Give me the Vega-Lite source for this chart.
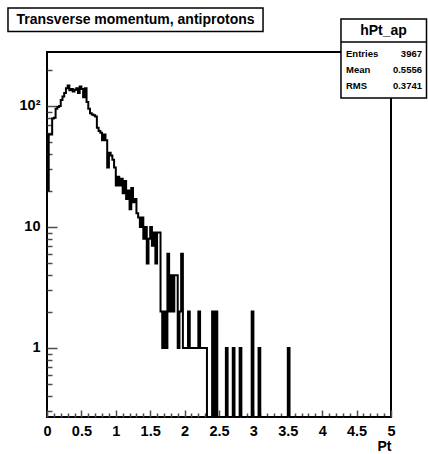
{
"$schema": "https://vega.github.io/schema/vega-lite/v6.json",
"width": 344,
"height": 365,
"autosize": {"type": "none"},
"padding": {"left": 47, "top": 52, "right": 37, "bottom": 37},
"background": "white",
"config": {
  "view": {"stroke": "black", "strokeWidth": 2},
  "font": "Liberation Sans",
  "axis": {"domain": false, "grid": false, "labelColor": "black", "titleColor": "black", "labelFont": "Liberation Sans", "labelFontWeight": "bold", "labelFlush": false, "labelOverlap": false}
},
"datasets": {
  "hist": [
    {"pt":0,"n":20},{"pt":0.025,"n":58},{"pt":0.05,"n":58},{"pt":0.075,"n":79},{"pt":0.1,"n":80},
    {"pt":0.125,"n":95},{"pt":0.15,"n":98},{"pt":0.175,"n":100},{"pt":0.2,"n":112},{"pt":0.225,"n":120},
    {"pt":0.25,"n":128},{"pt":0.275,"n":140},{"pt":0.3,"n":148},{"pt":0.325,"n":135},{"pt":0.35,"n":138},
    {"pt":0.375,"n":132},{"pt":0.4,"n":136},{"pt":0.425,"n":140},{"pt":0.45,"n":128},{"pt":0.475,"n":145},
    {"pt":0.5,"n":138},{"pt":0.525,"n":118},{"pt":0.55,"n":140},{"pt":0.575,"n":108},{"pt":0.6,"n":95},
    {"pt":0.625,"n":87},{"pt":0.65,"n":85},{"pt":0.675,"n":84},{"pt":0.7,"n":82},{"pt":0.725,"n":66},
    {"pt":0.75,"n":62},{"pt":0.775,"n":60},{"pt":0.8,"n":52},{"pt":0.825,"n":58},{"pt":0.85,"n":52},
    {"pt":0.875,"n":31},{"pt":0.9,"n":41},{"pt":0.925,"n":39},{"pt":0.95,"n":36},{"pt":0.975,"n":31},
    {"pt":1.0,"n":22},{"pt":1.025,"n":26},{"pt":1.05,"n":22},{"pt":1.075,"n":25},{"pt":1.1,"n":19},
    {"pt":1.125,"n":24},{"pt":1.15,"n":17},{"pt":1.175,"n":20},{"pt":1.2,"n":14},{"pt":1.225,"n":21},
    {"pt":1.25,"n":16},{"pt":1.275,"n":17},{"pt":1.3,"n":13},{"pt":1.325,"n":12},{"pt":1.35,"n":10},
    {"pt":1.375,"n":12},{"pt":1.4,"n":8},{"pt":1.425,"n":10},{"pt":1.45,"n":5},{"pt":1.475,"n":8},
    {"pt":1.5,"n":10},{"pt":1.525,"n":7},{"pt":1.55,"n":9},{"pt":1.575,"n":5},{"pt":1.6,"n":9},
    {"pt":1.625,"n":9},{"pt":1.65,"n":2},{"pt":1.675,"n":1},{"pt":1.7,"n":2},{"pt":1.725,"n":1},
    {"pt":1.75,"n":6},{"pt":1.775,"n":2},{"pt":1.8,"n":4},{"pt":1.825,"n":2},{"pt":1.85,"n":4},
    {"pt":1.875,"n":4},{"pt":1.9,"n":1},{"pt":1.925,"n":2},{"pt":1.95,"n":6},{"pt":1.975,"n":1},
    {"pt":2.0,"n":1},{"pt":2.025,"n":1},{"pt":2.05,"n":2},{"pt":2.075,"n":1},{"pt":2.1,"n":1},
    {"pt":2.125,"n":1},{"pt":2.15,"n":1},{"pt":2.175,"n":1},{"pt":2.2,"n":2},{"pt":2.225,"n":1},
    {"pt":2.25,"n":1},{"pt":2.275,"n":1},{"pt":2.3,"n":1},{"pt":2.325,"n":0},{"pt":2.35,"n":0},
    {"pt":2.375,"n":0},{"pt":2.4,"n":2},{"pt":2.425,"n":0},{"pt":2.45,"n":2},{"pt":2.475,"n":0},
    {"pt":2.5,"n":0},{"pt":2.525,"n":0},{"pt":2.55,"n":0},{"pt":2.575,"n":0},{"pt":2.6,"n":1},
    {"pt":2.625,"n":0},{"pt":2.65,"n":0},{"pt":2.675,"n":0},{"pt":2.7,"n":1},{"pt":2.725,"n":0},
    {"pt":2.75,"n":0},{"pt":2.775,"n":0},{"pt":2.8,"n":1},{"pt":2.825,"n":0},{"pt":2.85,"n":0},
    {"pt":2.875,"n":0},{"pt":2.9,"n":0},{"pt":2.925,"n":0},{"pt":2.95,"n":0},{"pt":2.975,"n":2},
    {"pt":3.0,"n":0},{"pt":3.025,"n":0},{"pt":3.05,"n":0},{"pt":3.075,"n":1},{"pt":3.1,"n":0},
    {"pt":3.125,"n":0},{"pt":3.15,"n":0},{"pt":3.175,"n":0},{"pt":3.2,"n":0},{"pt":3.225,"n":0},
    {"pt":3.25,"n":0},{"pt":3.275,"n":0},{"pt":3.3,"n":0},{"pt":3.325,"n":0},{"pt":3.35,"n":0},
    {"pt":3.375,"n":0},{"pt":3.4,"n":0},{"pt":3.425,"n":0},{"pt":3.45,"n":0},{"pt":3.475,"n":0},
    {"pt":3.5,"n":1},{"pt":3.525,"n":0},{"pt":3.55,"n":0},{"pt":3.575,"n":0},{"pt":3.6,"n":0},
    {"pt":3.625,"n":0},{"pt":3.65,"n":0},{"pt":3.675,"n":0},{"pt":3.7,"n":0},{"pt":3.725,"n":0},
    {"pt":3.75,"n":0},{"pt":3.775,"n":0},{"pt":3.8,"n":0},{"pt":3.825,"n":0},{"pt":3.85,"n":0},
    {"pt":3.875,"n":0},{"pt":3.9,"n":0},{"pt":3.925,"n":0},{"pt":3.95,"n":0},{"pt":3.975,"n":0},
    {"pt":4.0,"n":0},{"pt":4.025,"n":0},{"pt":4.05,"n":0},{"pt":4.075,"n":0},{"pt":4.1,"n":0},
    {"pt":4.125,"n":0},{"pt":4.15,"n":0},{"pt":4.175,"n":0},{"pt":4.2,"n":0},{"pt":4.225,"n":0},
    {"pt":4.25,"n":0},{"pt":4.275,"n":0},{"pt":4.3,"n":0},{"pt":4.325,"n":0},{"pt":4.35,"n":0},
    {"pt":4.375,"n":0},{"pt":4.4,"n":0},{"pt":4.425,"n":0},{"pt":4.45,"n":0},{"pt":4.475,"n":0},
    {"pt":4.5,"n":0},{"pt":4.525,"n":0},{"pt":4.55,"n":0},{"pt":4.575,"n":0},{"pt":4.6,"n":0},
    {"pt":4.625,"n":0},{"pt":4.65,"n":0},{"pt":4.675,"n":0},{"pt":4.7,"n":0},{"pt":4.725,"n":0},
    {"pt":4.75,"n":0},{"pt":4.775,"n":0},{"pt":4.8,"n":0},{"pt":4.825,"n":0},{"pt":4.85,"n":0},
    {"pt":4.875,"n":0},{"pt":4.9,"n":0},{"pt":4.925,"n":0},{"pt":4.95,"n":0},{"pt":4.975,"n":0}
  ]
},
"resolve": {"scale": {"y": "independent"}, "axis": {"x": "independent", "y": "independent"}},
"layer": [
  {
    "data": {"name": "hist"},
    "mark": {"type": "line", "interpolate": "step-after", "color": "black", "strokeWidth": 2, "clip": true},
    "encoding": {
      "x": {"field": "pt", "type": "quantitative",
            "scale": {"domain": [0, 5], "nice": false, "zero": false},
            "axis": {"orient": "bottom", "values": [0,0.5,1,1.5,2,2.5,3,3.5,4,4.5,5], "format": "~g",
                     "offset": -7, "ticks": true, "tickSize": 7, "tickColor": "#4d4d4d", "tickWidth": 1.5, "labelPadding": 7, "labelFontSize": 14.5,
                     "title": "Pt", "titleAnchor": "end", "titleFontSize": 14, "titleFontWeight": "bold", "titlePadding": 2}},
      "y": {"field": "n", "type": "quantitative",
            "scale": {"type": "log", "domain": [0.269, 279.4], "nice": false, "clamp": true},
            "axis": {"orient": "left", "values": [1, 10, 100],
                     "labelExpr": "datum.value == 100 ? '10²' : (datum.value == 10 ? '10' : '1')",
                     "offset": -10, "ticks": true, "tickSize": 10, "tickColor": "#4d4d4d", "tickWidth": 1.5, "labelPadding": 7, "labelFontSize": 14.5, "title": null}}
    }
  },
  {
    "data": {"name": "hist"},
    "mark": {"type": "line", "opacity": 0, "clip": true},
    "encoding": {
      "x": {"field": "pt", "type": "quantitative",
            "scale": {"domain": [0, 5], "nice": false, "zero": false},
            "axis": {"orient": "bottom", "values": [0.1,0.2,0.3,0.4,0.6,0.7,0.8,0.9,1.1,1.2,1.3,1.4,1.6,1.7,1.8,1.9,2.1,2.2,2.3,2.4,2.6,2.7,2.8,2.9,3.1,3.2,3.3,3.4,3.6,3.7,3.8,3.9,4.1,4.2,4.3,4.4,4.6,4.7,4.8,4.9],
                     "labels": false, "offset": -4, "ticks": true, "tickSize": 4, "tickColor": "#4d4d4d", "tickWidth": 1.5, "title": null}},
      "y": {"field": "n", "type": "quantitative",
            "scale": {"type": "log", "domain": [0.269, 279.4], "nice": false, "clamp": true},
            "axis": {"orient": "left", "values": [0.3,0.4,0.5,0.6,0.7,0.8,0.9,2,3,4,5,6,7,8,9,20,30,40,50,60,70,80,90,200],
                     "labels": false, "offset": -5, "ticks": true, "tickSize": 5, "tickColor": "#4d4d4d", "tickWidth": 1.5, "title": null}}
    }
  },
  {
    "data": {"values": [{}]},
    "layer": [
      {
        "mark": {"type": "rect", "fill": "white", "stroke": "black", "strokeWidth": 1.5},
        "encoding": {
          "x": {"datum": -0.567, "type": "quantitative", "scale": {"domain": [0, 5], "nice": false, "zero": false}, "axis": null},
          "x2": {"datum": 3.14},
          "y": {"datum": 645.6, "type": "quantitative", "scale": {"type": "log", "domain": [0.269, 279.4], "nice": false}, "axis": null},
          "y2": {"datum": 412.9}
        }
      },
      {
        "mark": {"type": "text", "align": "left", "baseline": "middle", "fontSize": 14, "fontWeight": "bold", "font": "Liberation Sans", "color": "black"},
        "encoding": {
          "x": {"datum": -0.443, "type": "quantitative", "scale": {"domain": [0, 5], "nice": false, "zero": false}, "axis": null},
          "y": {"datum": 513.7, "type": "quantitative", "scale": {"type": "log", "domain": [0.269, 279.4], "nice": false}, "axis": null},
          "text": {"value": "Transverse momentum, antiprotons"}
        }
      },
      {
        "mark": {"type": "rect", "fill": "white", "stroke": "black", "strokeWidth": 1.5},
        "encoding": {
          "x": {"datum": 4.273, "type": "quantitative", "scale": {"domain": [0, 5], "nice": false, "zero": false}, "axis": null},
          "x2": {"datum": 5.516},
          "y": {"datum": 523.6, "type": "quantitative", "scale": {"type": "log", "domain": [0.269, 279.4], "nice": false}, "axis": null},
          "y2": {"datum": 116.5}
        }
      },
      {
        "mark": {"type": "rule", "stroke": "black", "strokeWidth": 1.5},
        "encoding": {
          "x": {"datum": 4.273, "type": "quantitative", "scale": {"domain": [0, 5], "nice": false, "zero": false}, "axis": null},
          "x2": {"datum": 5.516},
          "y": {"datum": 338.0, "type": "quantitative", "scale": {"type": "log", "domain": [0.269, 279.4], "nice": false}, "axis": null}
        }
      },
      {
        "mark": {"type": "text", "align": "center", "baseline": "middle", "fontSize": 14, "fontWeight": "bold", "font": "Liberation Sans", "color": "black"},
        "encoding": {
          "x": {"datum": 4.891, "type": "quantitative", "scale": {"domain": [0, 5], "nice": false, "zero": false}, "axis": null},
          "y": {"datum": 416.6, "type": "quantitative", "scale": {"type": "log", "domain": [0.269, 279.4], "nice": false}, "axis": null},
          "text": {"value": "hPt_ap"}
        }
      },
      {
        "mark": {"type": "text", "align": "left", "baseline": "middle", "fontSize": 9.5, "fontWeight": "bold", "font": "Liberation Sans", "color": "black"},
        "encoding": {
          "x": {"datum": 4.346, "type": "quantitative", "scale": {"domain": [0, 5], "nice": false, "zero": false}, "axis": null},
          "y": {"datum": 269.0, "type": "quantitative", "scale": {"type": "log", "domain": [0.269, 279.4], "nice": false}, "axis": null},
          "text": {"value": "Entries"}
        }
      },
      {
        "mark": {"type": "text", "align": "left", "baseline": "middle", "fontSize": 9.5, "fontWeight": "bold", "font": "Liberation Sans", "color": "black"},
        "encoding": {
          "x": {"datum": 4.346, "type": "quantitative", "scale": {"domain": [0, 5], "nice": false, "zero": false}, "axis": null},
          "y": {"datum": 198.4, "type": "quantitative", "scale": {"type": "log", "domain": [0.269, 279.4], "nice": false}, "axis": null},
          "text": {"value": "Mean"}
        }
      },
      {
        "mark": {"type": "text", "align": "left", "baseline": "middle", "fontSize": 9.5, "fontWeight": "bold", "font": "Liberation Sans", "color": "black"},
        "encoding": {
          "x": {"datum": 4.346, "type": "quantitative", "scale": {"domain": [0, 5], "nice": false, "zero": false}, "axis": null},
          "y": {"datum": 146.3, "type": "quantitative", "scale": {"type": "log", "domain": [0.269, 279.4], "nice": false}, "axis": null},
          "text": {"value": "RMS"}
        }
      },
      {
        "mark": {"type": "text", "align": "right", "baseline": "middle", "fontSize": 9.5, "fontWeight": "bold", "font": "Liberation Sans", "color": "black"},
        "encoding": {
          "x": {"datum": 5.4506, "type": "quantitative", "scale": {"domain": [0, 5], "nice": false, "zero": false}, "axis": null},
          "y": {"datum": 269.0, "type": "quantitative", "scale": {"type": "log", "domain": [0.269, 279.4], "nice": false}, "axis": null},
          "text": {"value": "3967"}
        }
      },
      {
        "mark": {"type": "text", "align": "right", "baseline": "middle", "fontSize": 9.5, "fontWeight": "bold", "font": "Liberation Sans", "color": "black"},
        "encoding": {
          "x": {"datum": 5.4506, "type": "quantitative", "scale": {"domain": [0, 5], "nice": false, "zero": false}, "axis": null},
          "y": {"datum": 198.4, "type": "quantitative", "scale": {"type": "log", "domain": [0.269, 279.4], "nice": false}, "axis": null},
          "text": {"value": "0.5556"}
        }
      },
      {
        "mark": {"type": "text", "align": "right", "baseline": "middle", "fontSize": 9.5, "fontWeight": "bold", "font": "Liberation Sans", "color": "black"},
        "encoding": {
          "x": {"datum": 5.4506, "type": "quantitative", "scale": {"domain": [0, 5], "nice": false, "zero": false}, "axis": null},
          "y": {"datum": 146.3, "type": "quantitative", "scale": {"type": "log", "domain": [0.269, 279.4], "nice": false}, "axis": null},
          "text": {"value": "0.3741"}
        }
      }
    ]
  }
]
}
